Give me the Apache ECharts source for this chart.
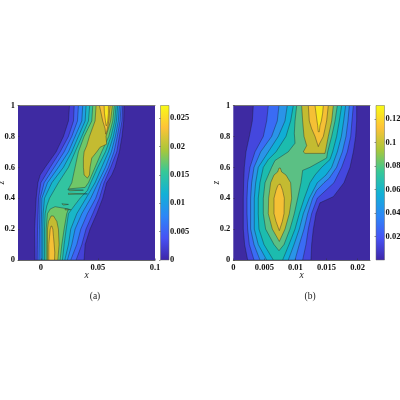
<!DOCTYPE html>
<html>
<head>
<meta charset="utf-8">
<style>html,body{margin:0;padding:0;background:#fff}#chart{width:400px;height:400px}</style>
<script src="https://cdn.jsdelivr.net/npm/echarts@6/dist/echarts.min.js"></script>
</head>
<body>
<div id="chart"></div>
<script>
// contour rings: [x in 1e-3, z]
const a1 = [[-5.2,0],[-5.5,.2],[-4.1,.4],[-2.6,.5],[-.6,.55],[3.8,.6],[13.4,.7],[19.8,.8],[24.2,.9],[25.1,1],[72.9,1],[72.6,.9],[71.1,.8],[68.8,.7],[65,.6],[62.1,.55],[57.7,.5],[54.2,.4],[49,.3],[43.1,.2],[38.8,.1],[37.9,0]];
const a2 = [[-3.2,0],[-2.9,.2],[-2,.4],[0,.5],[8.2,.6],[16.9,.7],[24.2,.8],[28.6,.9],[29.2,1],[71.7,1],[71.1,.9],[68.8,.8],[66.5,.7],[61.2,.6],[55.4,.5],[51.3,.4],[45.5,.3],[39.6,.2],[35.9,.1],[30.9,0]];
const a3 = [[-1.5,0],[-1.2,.2],[-.6,.4],[2.9,.5],[11.7,.6],[20.4,.7],[27.1,.8],[32.1,.9],[32.9,1],[70.3,1],[69.4,.9],[67,.8],[64.1,.7],[59.2,.6],[52.8,.5],[48.1,.4],[40.8,.3],[35,.2],[31.5,.1],[26.2,0]];
const a4 = [[.3,0],[.3,.2],[.9,.4],[5.8,.5],[15.4,.6],[24.2,.7],[30,.8],[35.9,.9],[36.7,1],[68.8,1],[67.9,.9],[65.3,.8],[61.8,.7],[56.6,.6],[50.1,.5],[43.7,.4],[35.9,.3],[30,.2],[27.1,.1],[23.3,0]];
const a5 = [[1.7,0],[1.7,.2],[2,.3],[3.2,.4],[9.6,.5],[19.8,.6],[27.1,.7],[32.9,.8],[38.8,.9],[39.6,1],[67.3,1],[66.2,.9],[63.5,.8],[59.2,.7],[53.3,.6],[47.5,.5],[39.6,.4],[31.5,.3],[26.2,.2],[24.2,.1],[21,0]];
const a6 = [[3.2,0],[3.2,.2],[3.8,.3],[5.2,.35],[7.6,.4],[15.4,.5],[24.2,.6],[30,.7],[35.9,.8],[41.7,.9],[42.8,1],[65.9,1],[64.7,.9],[61.5,.8],[56.6,.7],[49.8,.6],[43.7,.5],[40.8,.45],[34.4,.4],[29.2,.35],[24.2,.3],[22.2,.2],[20.4,.1],[18.9,0]];
const a7low = [[4.7,0],[4.7,.2],[5.8,.3],[8.2,.33],[12.5,.345],[24.2,.33],[22.7,.3],[20.4,.2],[18.4,.1],[16.9,0]];
const a7up = [[24.2,.46],[27.1,.5],[30,.6],[32.9,.7],[37.9,.8],[44.6,.9],[45.5,1],[64.4,1],[63,.9],[59.5,.8],[53.3,.7],[47.5,.6],[41.7,.5],[38.8,.47]];
const a7s1 = [[23.6,.456],[37.3,.452],[25.4,.448]];
const a7s2 = [[24.2,.432],[40.8,.428],[24.2,.424]];
const a7s3 = [[18.4,.364],[24.2,.36],[19.8,.356]];
const a7s4 = [[21.3,.332],[26.2,.326],[21.3,.324]];
const a8low = [[5.8,0],[5.8,.1],[5.8,.2],[6.7,.25],[9,.285],[11.1,.285],[14,.25],[15.4,.2],[16,.1],[14.9,0]];
const a8up = [[40.8,.53],[37.9,.55],[37.3,.6],[37.3,.66],[37.9,.7],[40.2,.74],[42.6,.8],[47.5,.9],[48.4,1],[62.7,1],[61.1,.9],[57.1,.8],[57.7,.75],[51.9,.73],[49,.7],[44.6,.66],[43.1,.6],[42.6,.55]];
const a9low = [[7,0],[7,.05],[7,.1],[7.6,.15],[8.2,.2],[9,.22],[9.6,.22],[10.5,.2],[11.1,.15],[11.7,.1],[12.2,.05],[12,0]];
const a9up = [[51.3,1],[52.8,.95],[54.2,.9],[56.3,.85],[56.8,.815],[57.1,.815],[58.3,.85],[59.5,.9],[60,.95],[60.6,1]];
const a10 = [[55.4,1],[55.7,.95],[56.6,.9],[57.1,.87],[57.7,.87],[58.6,.9],[59.2,.95],[59.2,1]];

const b1 = [[2.31,0],[1.82,.1],[1.61,.2],[1.61,.3],[1.61,.4],[1.66,.5],[1.77,.6],[2.04,.7],[2.58,.8],[3.06,.9],[3.22,1],[19.85,1],[19.85,.9],[19.69,.8],[19.32,.7],[18.78,.6],[17.81,.5],[16.1,.41],[13.95,.37],[13.31,.3],[12.88,.2],[12.61,.1],[12.5,0]];
const b2 = [[3.33,0],[2.58,.1],[2.31,.2],[2.2,.3],[2.2,.4],[2.31,.5],[2.68,.6],[3.49,.7],[4.83,.8],[5.37,.9],[5.63,1],[19.32,1],[19.1,.9],[18.89,.8],[18.35,.7],[17.44,.6],[16.2,.5],[14.6,.44],[13.52,.4],[12.61,.3],[12.07,.2],[11.7,.1],[11.16,0]];
const b3 = [[4.29,0],[3.33,.1],[2.79,.2],[2.79,.3],[2.79,.4],[2.95,.5],[3.33,.6],[4.4,.7],[6.17,.8],[7.08,.9],[7.35,1],[18.67,1],[18.46,.9],[18.14,.8],[17.55,.7],[16.63,.6],[15.45,.53],[14.6,.5],[13.41,.45],[12.77,.4],[11.97,.3],[11.38,.2],[10.62,.1],[9.93,0]];
const b4 = [[5.37,0],[4.02,.1],[3.38,.2],[3.38,.3],[3.38,.4],[3.6,.5],[4.02,.6],[5.63,.7],[7.24,.8],[8.32,.9],[8.69,1],[18.08,1],[17.76,.9],[17.39,.8],[16.74,.7],[15.83,.6],[14.92,.55],[13.52,.5],[12.23,.4],[11.27,.3],[10.62,.2],[9.77,.1],[8.85,0]];
const b5 = [[6.44,0],[4.94,.1],[4.13,.2],[4.02,.3],[4.02,.4],[4.29,.5],[4.83,.6],[5.63,.65],[6.87,.7],[8.48,.8],[9.23,.9],[9.66,1],[17.44,1],[17.06,.9],[16.63,.8],[15.99,.7],[15.56,.65],[14.22,.6],[13.15,.55],[12.34,.5],[11.43,.4],[10.62,.3],[9.93,.2],[8.96,.1],[7.94,0]];
const b6 = [[7.35,.06],[6.55,.1],[5.2,.2],[4.83,.3],[4.83,.4],[5.1,.5],[5.63,.55],[6.17,.6],[6.71,.644],[8.85,.7],[9.93,.756],[9.82,.82],[9.93,.9],[10.2,1],[16.74,1],[16.37,.9],[15.83,.8],[15.19,.7],[15.02,.66],[12.34,.6],[11.16,.58],[10.89,.5],[10.36,.4],[9.82,.3],[9.12,.2],[8.16,.1]];
const b7low = [[7.41,.12],[6.28,.2],[5.63,.3],[5.69,.4],[6.01,.5],[6.55,.55],[7.14,.57],[7.35,.595],[7.57,.595],[7.78,.57],[8.48,.55],[9.23,.5],[9.39,.4],[9.01,.3],[8.32,.2]];
const b7up = [[11,1],[11.16,.9],[11.38,.8],[11.81,.74],[11.27,.7],[11.54,.69],[14.76,.69],[15.29,.8],[15.83,.9],[16.1,1]];
const b8low = [[7.41,.19],[6.87,.25],[6.55,.3],[6.55,.4],[6.87,.45],[7.14,.48],[7.35,.49],[7.57,.49],[7.67,.48],[7.94,.45],[8.21,.4],[8.16,.3],[7.89,.25]];
const b8up = [[12.07,1],[12.23,.9],[12.61,.85],[13.15,.8],[13.68,.734],[13.84,.75],[14.49,.8],[14.76,.85],[15.02,.9],[15.29,1]];
const b9 = [[13.15,1],[13.31,.95],[13.47,.9],[13.58,.87],[13.68,.83],[13.84,.83],[13.95,.87],[14.17,.9],[14.38,.95],[14.49,1]];

const aRings = [a1, a2, a3, a4, a5, a6, a7low, a7up, a7s1, a7s2, a7s3, a7s4, a8low, a8up, a9low, a9up, a10];
const aRingColors = ['#4442d8', '#3f62f3', '#2f83f6', '#1da0e4', '#19b6c7', '#32c4a1', '#70c768', '#70c768', '#70c768', '#70c768', '#70c768', '#70c768', '#c4bb31', '#c4bb31', '#f5c035', '#f5c035', '#f8e61f'];
const bRings = [b1, b2, b3, b4, b5, b6, b7low, b7up, b8low, b8up, b9];
const bRingColors = ['#4447de', '#3a6cf5', '#2a94e8', '#10aed5', '#1cbcae', '#5bc084', '#c4bb31', '#c4bb31', '#f5c035', '#f5c035', '#f8e61f'];

const parula = ['#3e26a8', '#4752f4', '#2d87f7', '#12b1d6', '#37c897', '#abc739', '#fec338', '#f9fb15'];
const zTicks = [0, 0.2, 0.4, 0.6, 0.8, 1];
const aXTicks = [0, 0.05, 0.1];
const bXTicks = [0, 0.005, 0.01, 0.015, 0.02];
const aBarTicks = [0, 0.005, 0.01, 0.015, 0.02, 0.025];
const bBarTicks = [0.02, 0.04, 0.06, 0.08, 0.1, 0.12];
const aBarMax = 0.0272;
const bBarMax = 0.1316;

const font = 'Liberation Serif';
const tickLabel = { fontFamily: font, fontWeight: 'bold', fontSize: 8.5, color: '#111', margin: 3, hideOverlap: false };
const nameStyle = { fontFamily: font, fontStyle: 'italic', fontSize: 9.5, color: '#222' };

function xAxis(grid, min, max, ticks) {
  return {
    type: 'value', gridIndex: grid, min, max, z: 5, name: 'x', nameLocation: 'middle', nameGap: 10, nameTextStyle: nameStyle,
    nameMoveOverlap: false,
    splitLine: { show: false },
    axisLine: { lineStyle: { color: '#666', width: 1 }, onZero: false },
    axisTick: { inside: true, length: 1.5, lineStyle: { color: '#333', width: 0.5 }, customValues: ticks },
    axisLabel: { ...tickLabel, customValues: ticks, showMinLabel: true, showMaxLabel: true }
  };
}

// line along the top of a plot
function topAxis(grid, min, max) {
  return {
    type: 'value', gridIndex: grid, min, max, z: 5, position: 'top',
    splitLine: { show: false },
    axisLine: { lineStyle: { color: '#777', width: 1 }, onZero: false },
    axisTick: { show: false },
    axisLabel: { show: false }
  };
}

function zAxis(grid, gap) {
  return {
    type: 'value', gridIndex: grid, min: 0, max: 1, z: 5, name: 'z', nameLocation: 'middle', nameGap: gap, nameTextStyle: nameStyle,
    nameMoveOverlap: false,
    splitLine: { show: false },
    axisLine: { show: false, onZero: false },
    axisTick: { inside: true, length: 1.5, lineStyle: { color: '#333', width: 0.5 }, customValues: zTicks },
    axisLabel: { ...tickLabel, customValues: zTicks }
  };
}

function barAxes(grid, max, ticks) {
  return {
    x: { type: 'value', gridIndex: grid, min: 0, max: 1, show: false },
    y: {
      type: 'value', gridIndex: grid, min: 0, max, position: 'right', z: 5,
      splitLine: { show: false },
      axisLine: { show: false },
      axisTick: { inside: true, length: 1.5, lineStyle: { color: '#333', width: 0.5 }, customValues: ticks },
      axisLabel: { ...tickLabel, margin: 1, customValues: ticks }
    }
  };
}

function ringSeries(ring, color, axis) {
  const pts = ring.map(p => [p[0] * 1e-3, p[1]]);
  return {
    type: 'custom', xAxisIndex: axis, yAxisIndex: axis, clip: true, silent: true, animation: false,
    data: pts, encode: { x: 0, y: 1 },
    renderItem(params, api) {
      if (params.dataIndex !== 0) return null;
      return {
        type: 'polygon',
        shape: { points: pts.map(p => api.coord(p)) },
        style: { fill: color, stroke: 'rgba(25,25,35,0.75)', lineWidth: 0.5 }
      };
    }
  };
}

function barSeries(axis, max) {
  const stops = parula.map((color, i) => ({ offset: 1 - i / (parula.length - 1), color }));
  return {
    type: 'custom', xAxisIndex: axis, yAxisIndex: axis, silent: true, animation: false,
    data: [[0, 0]], encode: { x: 0, y: 1 },
    renderItem(params, api) {
      const bl = api.coord([0, 0]);
      const tr = api.coord([1, max]);
      return {
        type: 'rect',
        shape: { x: bl[0], y: tr[1], width: tr[0] - bl[0], height: bl[1] - tr[1] },
        style: { fill: new echarts.graphic.LinearGradient(0, 0, 0, 1, stops), stroke: '#666', lineWidth: 0.5 }
      };
    }
  };
}

const chart = echarts.init(document.getElementById('chart'), null, { renderer: 'canvas' });
const aBar = barAxes(2, aBarMax, aBarTicks);
const bBar = barAxes(3, bBarMax, bBarTicks);
const dark = '#3e2aa2';

chart.setOption({
  animation: false,
  backgroundColor: '#fff',
  title: [
    { text: '(a)', left: 90, top: 286, textAlign: 'center', textStyle: { fontFamily: font, fontSize: 9.5, fontWeight: 'normal', color: '#222' } },
    { text: '(b)', left: 305, top: 286, textAlign: 'center', textStyle: { fontFamily: font, fontSize: 9.5, fontWeight: 'normal', color: '#222' } }
  ],
  grid: [
    { left: 18, top: 105.5, width: 137, height: 154.5, show: true, backgroundColor: dark, borderWidth: 0, outerBoundsMode: 'none' },
    { left: 233.3, top: 105.5, width: 136.7, height: 154.5, show: true, backgroundColor: dark, borderWidth: 0, outerBoundsMode: 'none' },
    { left: 160.5, top: 105.5, width: 8.5, height: 154.5, outerBoundsMode: 'none' },
    { left: 376, top: 105.5, width: 8.5, height: 154.5, outerBoundsMode: 'none' }
  ],
  xAxis: [xAxis(0, -0.02, 0.1, aXTicks), xAxis(1, 0, 0.022, bXTicks), aBar.x, bBar.x, topAxis(0, -0.02, 0.1), topAxis(1, 0, 0.022)],
  yAxis: [zAxis(0, 12), zAxis(1, 12), aBar.y, bBar.y],
  series: [
    ...aRings.map((r, i) => ringSeries(r, aRingColors[i], 0)),
    ...bRings.map((r, i) => ringSeries(r, bRingColors[i], 1)),
    barSeries(2, aBarMax),
    barSeries(3, bBarMax)
  ]
});
</script>
</body>
</html>
